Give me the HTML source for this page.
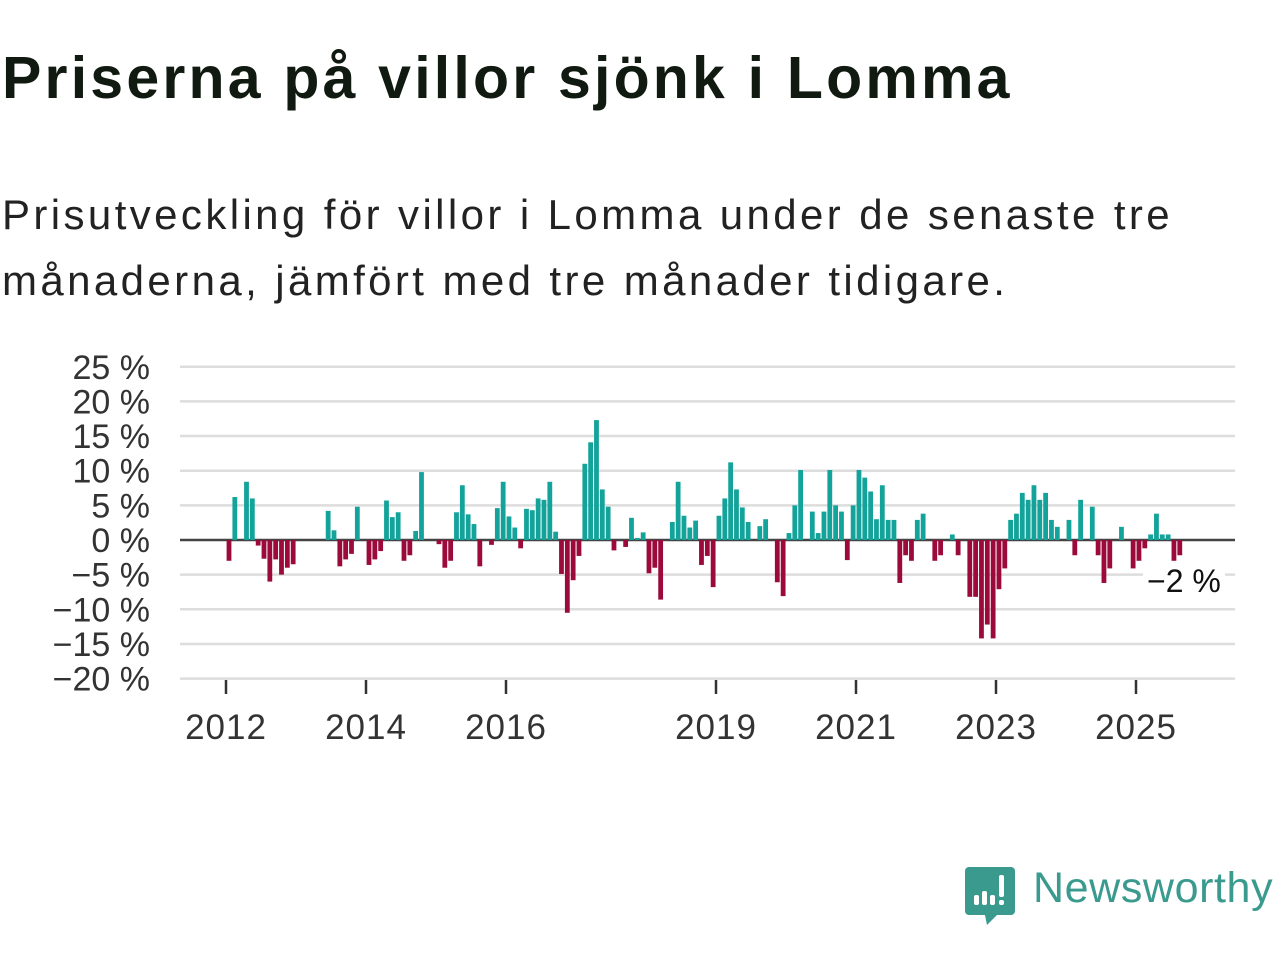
<!DOCTYPE html>
<html><head><meta charset="utf-8">
<style>
body{margin:0;width:1280px;height:960px;background:#fff;font-family:"Liberation Sans","DejaVu Sans",sans-serif;overflow:hidden;position:relative;color:#111}
#title{position:absolute;left:2px;top:44px;font-size:59px;font-weight:bold;color:#111a11;letter-spacing:3.2px;white-space:nowrap}
#subtitle{position:absolute;left:2px;top:182px;font-size:42px;line-height:66px;color:#222;letter-spacing:3.4px;white-space:nowrap}
svg{position:absolute;left:0;top:0}
</style></head><body>
<div id="title">Priserna på villor sjönk i Lomma</div>
<div id="subtitle">Prisutveckling för villor i Lomma under de senaste tre<br>månaderna, jämfört med tre månader tidigare.</div>
<svg id="chart" width="1280" height="960"></svg>
<div style="position:absolute;left:965px;top:865px;width:315px;height:62px">
<svg width="52" height="62" style="position:absolute;left:0;top:0">
<path d="M4 2h42a4 4 0 0 1 4 4v40a4 4 0 0 1-4 4H32l-10 10-2-10H4a4 4 0 0 1-4-4V6a4 4 0 0 1 4-4z" fill="#3a9a8e"/>
<rect x="9" y="30" width="5" height="10" rx="2" fill="#fff"/><rect x="17" y="26" width="5" height="14" rx="2" fill="#fff"/><rect x="25" y="30" width="5" height="10" rx="2" fill="#fff"/><rect x="34" y="10" width="5" height="22" rx="2" fill="#fff"/><rect x="34" y="35" width="5" height="5" rx="2" fill="#fff"/>
</svg>
<div style="position:absolute;left:68px;top:-1px;font-size:43px;letter-spacing:0.6px;color:#3a9a8e;font-weight:500">Newsworthy</div>
</div>
<script>
const months=[0,1,3,4,5,6,7,8,9,10,11,17,18,19,20,21,22,24,25,26,27,28,29,30,31,32,33,36,37,38,39,40,41,42,43,45,46,47,48,49,50,51,52,53,54,55,56,57,58,59,60,61,62,63,64,65,66,68,69,70,71,72,73,74,76,77,78,79,80,81,82,83,84,85,86,87,88,89,91,92,94,95,96,97,98,100,101,102,103,104,105,106,107,108,109,110,111,112,113,114,115,116,117,118,119,121,122,124,125,127,128,129,130,131,132,133,134,135,136,137,138,139,140,141,142,144,145,146,148,149,150,151,153,155,156,157,158,159,160,161,162,163];
const values=[-3,6.2,8.4,6,-0.8,-2.7,-6,-2.8,-5,-4,-3.5,4.2,1.4,-3.8,-2.8,-2,4.8,-3.6,-2.8,-1.6,5.7,3.3,4,-3,-2.2,1.3,9.8,-0.6,-4,-3,4,7.9,3.7,2.3,-3.8,-0.7,4.6,8.4,3.4,1.8,-1.2,4.5,4.3,6,5.8,8.4,1.2,-4.9,-10.5,-5.8,-2.3,11,14.1,17.3,7.3,4.8,-1.5,-1,3.2,0.3,1.1,-4.8,-4,-8.6,2.6,8.4,3.5,1.8,2.8,-3.6,-2.3,-6.8,3.5,6,11.2,7.3,4.7,2.6,2,3,-6.1,-8.1,1,5,10.1,4.1,1,4.1,10.1,5,4.1,-2.9,5,10.1,9,7,3,7.9,2.9,2.9,-6.2,-2.2,-3,2.9,3.8,-3,-2.2,0.8,-2.2,-8.2,-8.2,-14.2,-12.2,-14.2,-7.1,-4.1,2.9,3.8,6.8,5.8,7.9,5.8,6.8,2.9,1.9,2.9,-2.2,5.8,4.8,-2.2,-6.2,-4.1,1.9,-4.1,-3,-1.2,0.8,3.8,0.8,0.8,-3,-2.2];
const yTicks=[25,20,15,10,5,0,-5,-10,-15,-20];
const xTickYears=[2012,2014,2016,2019,2021,2023,2025];
const NS="http://www.w3.org/2000/svg";
const svg=document.getElementById('chart');
const y0=540, pxPer=6.93;
function yS(v){return y0-v*pxPer;}
function xS(m){return 226+m*5.833;}
function xYear(yr){return 226+(yr-2012)*70;}
function mk(t,a){const e=document.createElementNS(NS,t);for(const k in a)e.setAttribute(k,a[k]);svg.appendChild(e);return e;}
yTicks.forEach(v=>{
 const g=mk('line',{x1:180,x2:1235,y1:yS(v),y2:yS(v),stroke:v===0?'#444':'#ddd','stroke-width':2.5});
 
 
 const t=mk('text',{x:150,y:yS(v)+12,'text-anchor':'end','font-size':34,fill:'#333','font-family':'Liberation Sans, DejaVu Sans, sans-serif'});
 t.textContent=(v<0?'\u2212'+(-v):v)+' %';
 
 
});
months.forEach((m,i)=>{
 const v=values[i];
 const r=mk('rect',{x:xS(m)+0.6,width:4.8,y:v>=0?yS(v):y0,height:Math.abs(v)*pxPer,fill:v>=0?'#13a39a':'#9c0a3c'});
 
 
});
xTickYears.forEach(yr=>{
 const x=xYear(yr);
 const l=mk('line',{x1:x,x2:x,y1:680,y2:694,stroke:'#333','stroke-width':2.5});
 
 
 const t=mk('text',{x:x,y:739,'text-anchor':'middle','font-size':35,'letter-spacing':1,fill:'#333','font-family':'Liberation Sans, DejaVu Sans, sans-serif'});
 t.textContent=yr;
 
 
});
const bg=mk('rect',{x:1143,y:563,width:82,height:34,fill:'#fff'});


const lab=mk('text',{x:1147,y:592,'font-size':32,fill:'#111','font-family':'Liberation Sans, DejaVu Sans, sans-serif'});
lab.textContent='\u22122 %';


</script>
</body></html>
